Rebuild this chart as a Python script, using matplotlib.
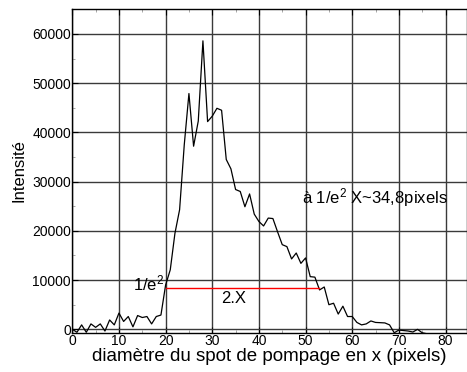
import matplotlib.pyplot as plt
from matplotlib.ticker import MultipleLocator

plt.rcParams['font.family'] = ['Liberation Sans', 'DejaVu Sans']
plt.rcParams['mathtext.fontset'] = 'custom'
plt.rcParams['mathtext.rm'] = 'Liberation Sans'
plt.rcParams['mathtext.it'] = 'Liberation Sans'

# Intensity profile of the pump spot along x
pixels = list(range(0, 77))
intensity = [
    0, -600, 900, -600, 1100, 400, 1100, -350, 1900, 900,
    3300, 1600, 2600, 500, 2800, 2400, 2600, 1100, 2600, 2900,
    9000, 12100, 19500, 24300, 37500, 47900, 37200, 42300, 58600, 42200,
    43300, 44900, 44500, 34500, 32600, 28400, 28000, 24900, 27500, 23400,
    21900, 21000, 22600, 22500, 19800, 17200, 16800, 14300, 15500, 13400,
    14500, 10700, 10600, 8000, 8600, 5000, 5300, 3100, 4700, 2600,
    2600, 1400, 900, 1100, 1700, 1400, 1350, 1300, 900, -700,
    -150, -250, -350, -550, 0, -700, -900,
]

# width of the beam at 1/e^2
level_e2 = 8400
x_start, x_end = 20, 52.9

fig = plt.figure(figsize=(4.67, 3.72), dpi=100)
ax = fig.add_axes([0.1548, 0.1048, 0.8452, 0.871])

ax.plot(pixels, intensity, color='black', lw=0.9)
ax.plot([x_start, x_end], [level_e2, level_e2], color='red', lw=1)

ax.text(19.6, 9400, r'1/e$^\mathrm{2}$', fontsize=12, ha='right', va='center')
ax.text(32.0, 6300, '2.X', fontsize=12, ha='left', va='center')
ax.text(49.2, 26800, r'à 1/e$^\mathrm{2}$ X~34,8pixels', fontsize=12, ha='left', va='center')

ax.set_xlim(0, 84.6)
ax.set_ylim(-750, 65070)
ax.xaxis.set_major_locator(MultipleLocator(10))
ax.yaxis.set_major_locator(MultipleLocator(10000))
ax.xaxis.set_minor_locator(MultipleLocator(5))
ax.yaxis.set_minor_locator(MultipleLocator(5000))
ax.tick_params(which='both', direction='in', top=True, labelsize=10, pad=1)
ax.tick_params(which='major', length=4)
ax.tick_params(which='minor', length=2, color='#999999')

ax.grid(True, which='major', color='#3a3a3a', lw=1)
for s in ax.spines.values():
    s.set_color('black')
    s.set_linewidth(1)

ax.set_xlabel('diamètre du spot de pompage en x (pixels)', fontsize=13.5, labelpad=0)
ax.set_ylabel('Intensité', fontsize=12, labelpad=4)

fig.savefig('out.png', dpi=100)
